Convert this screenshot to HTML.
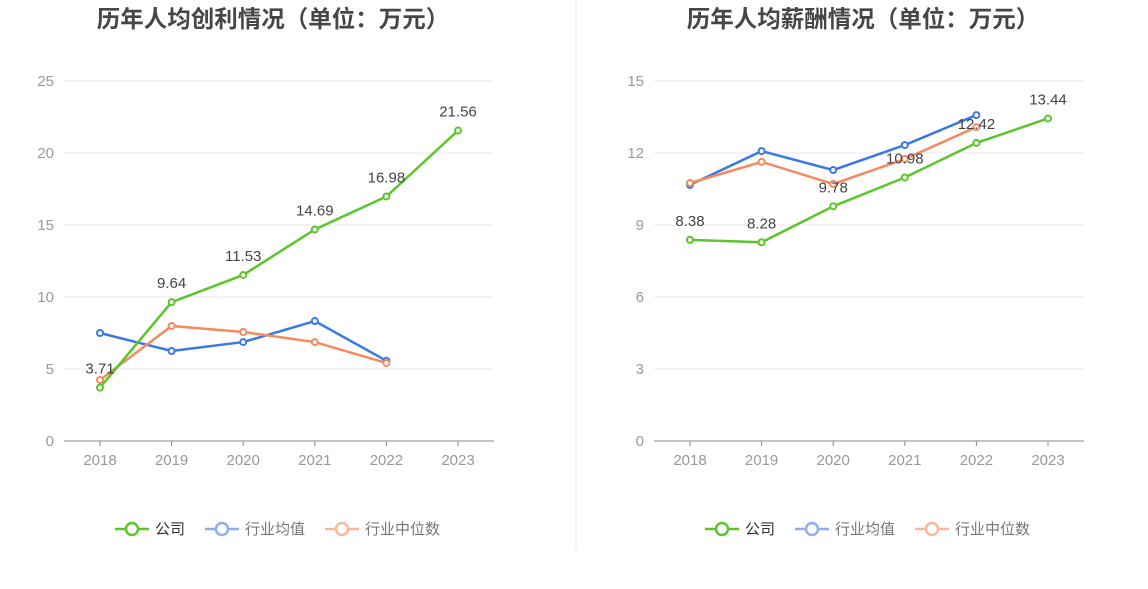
<!DOCTYPE html>
<html><head><meta charset="utf-8">
<style>
body{margin:0;background:#fff;width:1148px;height:589px;overflow:hidden;font-family:"Liberation Sans","Noto Sans CJK SC",sans-serif;}
svg{display:block}
</style></head>
<body>
<svg id="chart" width="1148" height="589"></svg>
<script>
const years=["2018","2019","2020","2021","2022","2023"];
const profitCompany=[3.71,9.64,11.53,14.69,16.98,21.56];
const profitAvg=[7.5,6.25,6.87,8.33,5.57];
const profitMedian=[4.24,7.99,7.57,6.87,5.42];
const profitTicks=[0,5,10,15,20,25];
const salaryCompany=[8.38,8.28,9.78,10.98,12.42,13.44];
const salaryAvg=[10.67,12.08,11.29,12.33,13.58];
const salaryMedian=[10.75,11.63,10.71,11.75,13.08];
const salaryTicks=[0,3,6,9,12,15];
const legendNames=["公司","行业均值","行业中位数"];
const colors=["#5bc62a","#3a78e6","#f7895d"];
const lightColors=["#5bc62a","#8eaef0","#f9b89c"];
const NS="http://www.w3.org/2000/svg";
const svg=document.getElementById('chart');
function mk(tag,attrs,parent){const e=document.createElementNS(NS,tag);for(const k in attrs)e.setAttribute(k,attrs[k]);(parent||svg).appendChild(e);return e;}
const div=mk('line',{x1:576,y1:0,x2:576,y2:550,stroke:'#eeeeee'});


function chart(cfg){
  const g=mk('g',{});
  
  
  const x0=cfg.x0,step=71.6,top=81,bot=441,max=cfg.ticks[cfg.ticks.length-1];
  const X=i=>x0+i*step, Y=v=>bot-(v/max)*(bot-top);
  const t=mk('text',{x:cfg.cx,y:27,'text-anchor':'middle','font-size':23.5,'font-weight':'bold',fill:'#464646'},g);
  t.textContent=cfg.title;
  
  
  cfg.ticks.forEach(v=>{
    if(v>0){const l=mk('line',{x1:x0-36,x2:x0+5*step+36,y1:Y(v),y2:Y(v),stroke:'#e6e8f0'},g);
    
    }
    const tl=mk('text',{x:x0-46,y:Y(v)+5,'text-anchor':'end','font-size':15,fill:'#999'},g);
    tl.textContent=v;
    
    
  });
  const ax=mk('line',{x1:x0-36,x2:x0+5*step+36,y1:bot,y2:bot,stroke:'#8a8a8a'},g);
  
  
  years.forEach((y,i)=>{
    mk('line',{x1:X(i),x2:X(i),y1:bot,y2:bot+5,stroke:'#8a8a8a'},g);
    const tl=mk('text',{x:X(i),y:465,'text-anchor':'middle','font-size':15,fill:'#999'},g);
    tl.textContent=y;
    
    
  });
  const series=[cfg.avg,cfg.median,cfg.company];
  const ci=[1,2,0];
  series.forEach((s,k)=>{
    const c=colors[ci[k]];
    const p=mk('polyline',{points:s.map((v,i)=>X(i)+','+Y(v)).join(' '),fill:'none',stroke:c,'stroke-width':2.5},g);
    
    
    s.forEach((v,i)=>{
      const d=mk('circle',{cx:X(i),cy:Y(v),r:3,fill:'#fff',stroke:c,'stroke-width':2},g);
      
      
    });
  });
  cfg.company.forEach((v,i)=>{
    const l=mk('text',{x:X(i),y:Y(v)-14,'text-anchor':'middle','font-size':15,fill:'#444'},g);
    l.textContent=v.toFixed(2);
    
    
  });
  let lx=cfg.cx-158;
  const widths=[90,120,0];
  legendNames.forEach((n,k)=>{
    const lg=mk('g',{},g);
    
    
    mk('line',{x1:lx,x2:lx+34,y1:529,y2:529,stroke:lightColors[k],'stroke-width':2.5},lg);
    mk('circle',{cx:lx+17,cy:529,r:6,fill:'#fff',stroke:lightColors[k],'stroke-width':2.5},lg);
    const tx=mk('text',{x:lx+40,y:534,'font-size':15,fill:k==0?'#333':'#777'},lg);
    tx.textContent=n;
    lx+=widths[k];
  });
}
chart({name:'profit-chart',x0:100,cx:273,title:'历年人均创利情况（单位：万元）',ticks:profitTicks,company:profitCompany,avg:profitAvg,median:profitMedian});
chart({name:'salary-chart',x0:690,cx:863,title:'历年人均薪酬情况（单位：万元）',ticks:salaryTicks,company:salaryCompany,avg:salaryAvg,median:salaryMedian});
</script>
</body></html>
